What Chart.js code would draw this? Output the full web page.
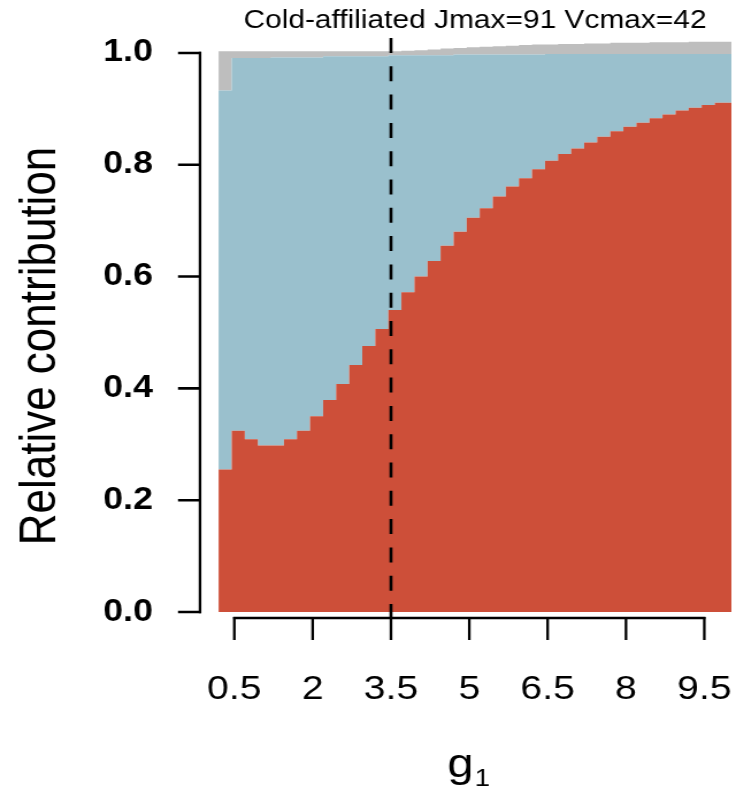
<!DOCTYPE html>
<html><head><meta charset="utf-8">
<script src="https://cdn.jsdelivr.net/npm/chart.js@4/dist/chart.umd.min.js"></script>
<style>html,body{margin:0;padding:0;background:#fff;} canvas{display:block;}</style>
</head><body>
<canvas id="c" width="640" height="798" style="width:736px;height:798px"></canvas>
<script>
// g1 step edges (left edge of each step, plus final right edge)
const stepEdges = [0.2, 0.45, 0.7, 0.95, 1.2, 1.45, 1.7, 1.95, 2.2, 2.45, 2.7, 2.95, 3.2, 3.45,
  3.7, 3.95, 4.2, 4.45, 4.7, 4.95, 5.2, 5.45, 5.7, 5.95, 6.2, 6.45, 6.7, 6.95, 7.2, 7.45,
  7.7, 7.95, 8.2, 8.45, 8.7, 8.95, 9.2, 9.45, 9.7, 10.02];
// relative contributions per step
const redPart = [0.255, 0.324, 0.309, 0.298, 0.298, 0.309, 0.324, 0.350, 0.379, 0.408, 0.442, 0.476, 0.506,
  0.540, 0.572, 0.600, 0.628, 0.655, 0.680, 0.705, 0.722, 0.743, 0.761, 0.776, 0.792, 0.807,
  0.819, 0.829, 0.840, 0.850, 0.860, 0.868, 0.875, 0.883, 0.890, 0.897, 0.902, 0.907, 0.911];
const bluePart = [0.678, 0.667, 0.682, 0.693, 0.694, 0.683, 0.668, 0.642, 0.615, 0.586, 0.552, 0.518, 0.488,
  0.456, 0.424, 0.396, 0.368, 0.341, 0.317, 0.292, 0.275, 0.254, 0.236, 0.221, 0.205, 0.191,
  0.179, 0.169, 0.158, 0.148, 0.138, 0.130, 0.123, 0.115, 0.108, 0.101, 0.096, 0.091, 0.087];
const greyPart = [0.070, 0.012, 0.012, 0.012, 0.011, 0.011, 0.011, 0.011, 0.009, 0.009, 0.009, 0.009, 0.009,
  0.007, 0.008, 0.009, 0.010, 0.012, 0.012, 0.013, 0.014, 0.015, 0.016, 0.017, 0.018, 0.017,
  0.018, 0.018, 0.019, 0.019, 0.020, 0.020, 0.020, 0.021, 0.021, 0.021, 0.022, 0.022, 0.022];
const xTicks = [0.5, 2, 3.5, 5, 6.5, 8, 9.5];
const yTicks = [0, 0.2, 0.4, 0.6, 0.8, 1.0];
const cutoffG1 = 3.5;
const titleText = 'Cold-affiliated Jmax=91 Vcmax=42';
const yTitle = 'Relative contribution';

const FONT = 'Liberation Sans, Arial, Helvetica, sans-serif';
const SX = 736 / 640; // canvas is drawn at 640 px wide and shown 736 px wide

function toSteps(vals) {
  const pts = vals.map((v, i) => ({x: stepEdges[i], y: v}));
  pts.push({x: stepEdges[stepEdges.length - 1], y: vals[vals.length - 1]});
  return pts;
}

const area = (data, color, fill) => ({
  data: toSteps(data), backgroundColor: color, borderColor: color, borderWidth: 0,
  pointRadius: 0, stepped: 'before', fill: fill, tension: 0
});

const rAxes = {
  id: 'rAxes',
  afterDraw(chart) {
    const ctx = chart.ctx, xs = chart.scales.x, ys = chart.scales.y, ca = chart.chartArea;
    ctx.save();
    // dashed cutoff line
    const xc = xs.getPixelForValue(cutoffG1);
    ctx.strokeStyle = '#000'; ctx.lineWidth = 2.6; ctx.setLineDash([15, 13.3]);
    ctx.beginPath(); ctx.moveTo(xc, ca.top); ctx.lineTo(xc, ca.bottom); ctx.stroke();
    ctx.setLineDash([]);
    ctx.lineCap = 'butt';
    // y axis
    const ax = ca.left;
    const y0 = ys.getPixelForValue(yTicks[0]), y1 = ys.getPixelForValue(yTicks[yTicks.length - 1]);
    ctx.lineWidth = 2.3;
    ctx.beginPath(); ctx.moveTo(ax, y0 + 1.2); ctx.lineTo(ax, y1 - 1.2); ctx.stroke();
    ctx.lineWidth = 2.6;
    ctx.beginPath();
    yTicks.forEach(t => { const p = ys.getPixelForValue(t); ctx.moveTo(ax + 1, p); ctx.lineTo(ax - 22 / SX, p); });
    ctx.stroke();
    // x axis
    const ay = ca.bottom;
    const x0 = xs.getPixelForValue(xTicks[0]), x1 = xs.getPixelForValue(xTicks[xTicks.length - 1]);
    ctx.lineWidth = 2.6;
    ctx.beginPath(); ctx.moveTo(x0 - 1, ay); ctx.lineTo(x1 + 1, ay); ctx.stroke();
    ctx.lineWidth = 2.3;
    ctx.beginPath();
    xTicks.forEach(t => { const p = xs.getPixelForValue(t); ctx.moveTo(p, ay - 1); ctx.lineTo(p, ay + 22); });
    ctx.stroke();
    ctx.fillStyle = '#000';
    // title
    ctx.font = '26px ' + FONT; ctx.textAlign = 'center'; ctx.textBaseline = 'middle';
    ctx.fillText(titleText, 475 / SX, 21);
    // y title
    ctx.save();
    ctx.translate(40 / SX + 1, 346);
    ctx.rotate(-Math.PI / 2);
    ctx.font = '44px ' + FONT; ctx.textAlign = 'center'; ctx.textBaseline = 'middle';
    ctx.fillText(yTitle, 0, 0);
    ctx.restore();
    // x title g1
    ctx.textAlign = 'left'; ctx.textBaseline = 'alphabetic';
    ctx.font = '41px ' + FONT;
    const gW = ctx.measureText('g').width;
    ctx.font = '24px ' + FONT;
    const sW = ctx.measureText('1').width;
    const cx = (ca.left + ca.right) / 2;
    const sx = cx - (gW + sW) / 2;
    ctx.font = '41px ' + FONT;
    ctx.fillText('g', sx, 777);
    ctx.font = '24px ' + FONT;
    ctx.fillText('1', sx + gW + 1, 786);
    ctx.restore();
  }
};

const zeroPad = s => { s.paddingLeft = 0; s.paddingRight = 0; s.paddingTop = 0; s.paddingBottom = 0; };

new Chart(document.getElementById('c'), {
  type: 'line',
  data: {
    datasets: [
      area(redPart, '#CD4F39', 'origin'),
      area(bluePart, '#9AC0CD', '-1'),
      area(greyPart, '#BEBEBE', '-1')
    ]
  },
  options: {
    responsive: false, animation: false, devicePixelRatio: 1,
    layout: {padding: {top: 38, right: 0, left: 0, bottom: 0}},
    plugins: {legend: {display: false}, tooltip: {enabled: false}, title: {display: false}},
    elements: {line: {borderWidth: 0}},
    scales: {
      x: {
        type: 'linear', min: -0.157, max: 10.107,
        grid: {display: false, drawTicks: false}, border: {display: false},
        afterBuildTicks: s => { s.ticks = xTicks.map(v => ({value: v})); },
        afterFit: s => { s.height = 180; zeroPad(s); },
        ticks: {autoSkip: false, maxRotation: 0, padding: 51, color: '#000',
          font: {family: FONT, size: 34}, callback: v => String(v)}
      },
      y: {
        type: 'linear', stacked: true, min: -0.0107, max: 1.0267,
        grid: {display: false, drawTicks: false}, border: {display: false},
        afterBuildTicks: s => { s.ticks = yTicks.map(v => ({value: v})); },
        afterFit: s => { s.width = 200 / SX; zeroPad(s); },
        ticks: {padding: 41, color: '#000', font: {family: FONT, size: 31, weight: 'bold'},
          callback: v => Number(v).toFixed(1)},
        title: {display: false}
      }
    }
  },
  plugins: [rAxes]
});
</script>
</body></html>
